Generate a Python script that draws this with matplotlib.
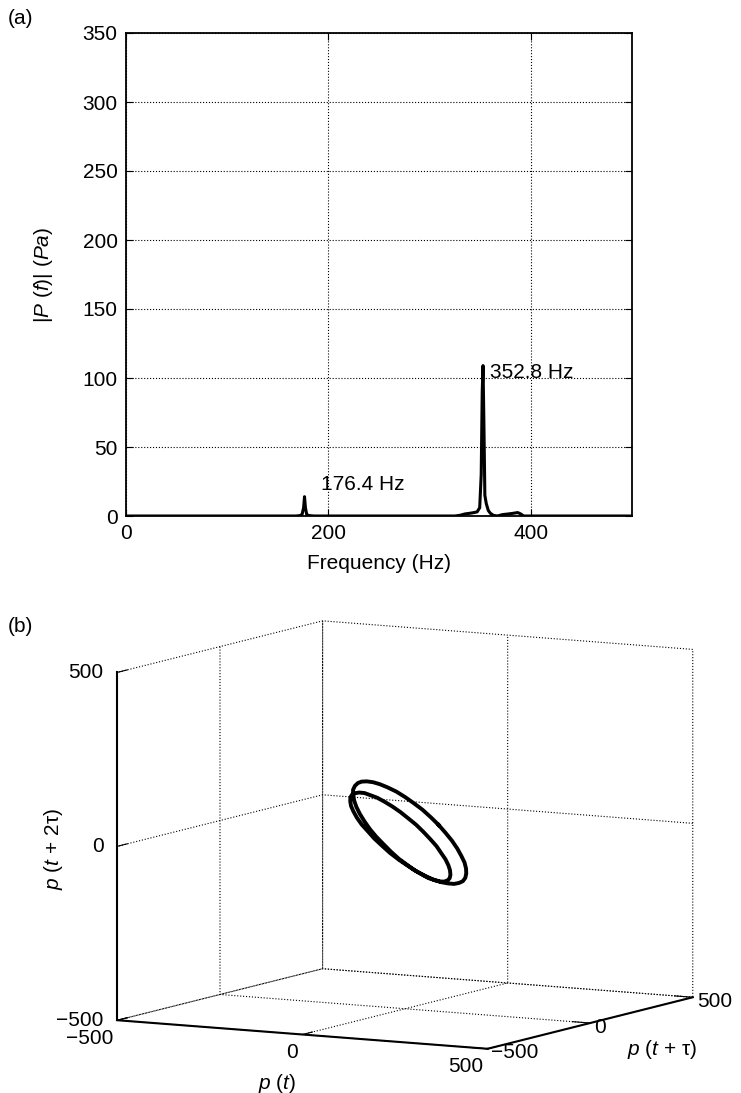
import matplotlib
matplotlib.use('Agg')
import matplotlib.pyplot as plt
import numpy as np

plt.rcParams['font.family'] = ['Liberation Sans', 'DejaVu Sans']
plt.rcParams['mathtext.fontset'] = 'custom'
plt.rcParams['mathtext.rm'] = 'Liberation Sans'
plt.rcParams['mathtext.it'] = 'Liberation Sans:italic'
plt.rcParams['font.size'] = 15
plt.rcParams['grid.linestyle'] = ':'
plt.rcParams['grid.color'] = 'k'
plt.rcParams['grid.linewidth'] = 0.8

# (a) amplitude spectrum
freq = [0, 168, 172, 174, 175.5, 176.4, 177.3, 178.6, 181, 186,
        325, 330, 335, 340, 344, 347, 349.5, 351, 352, 352.8, 353.6, 354.6,
        356, 358, 360, 363, 367, 372, 378, 383, 387, 390, 393, 500]
amp = [0, 0, 0.3, 1.2, 6, 14, 6, 1.0, 0.3, 0,
       0, 0.5, 1.5, 2, 2.5, 3, 6, 30, 90, 109, 70, 15,
       9, 4, 2, 0.5, 0, 1, 1.5, 2, 2.5, 1.5, 0, 0]
peak_text = ['176.4 Hz', '352.8 Hz']
peak_xy = [(193, 23), (360, 104)]

# (b) pressure samples over one 176.4 Hz period (80 samples), delay in samples
p = np.array([12, 32, 52, 71, 88, 104, 117, 127, 135, 140,
              141, 139, 134, 126, 115, 102, 86, 69, 50, 29,
              9, -12, -32, -52, -70, -86, -100, -111, -120, -126,
              -128, -128, -124, -118, -109, -97, -83, -67, -50, -31,
              -12, 7, 26, 43, 60, 75, 87, 97, 105, 110,
              111, 110, 106, 98, 89, 76, 62, 46, 28, 10,
              -9, -28, -46, -63, -79, -93, -104, -114, -120, -123,
              -124, -121, -115, -107, -95, -81, -65, -48, -28, -8])
tau = 10

fig = plt.figure(figsize=(7.41, 10.93), dpi=100)

ax = fig.add_axes([126/741, 1-516/1093, 506/741, 483/1093])
ax.plot(freq, amp, 'k', lw=2.2)
for txt, (fx, fy) in zip(peak_text, peak_xy):
    ax.text(fx, fy, txt, ha='left', va='center')
ax.set_xlim(0, 500)
ax.set_ylim(0, 350)
ax.set_xticks([0, 200, 400])
ax.set_yticks(np.arange(0, 351, 50))
ax.grid(True)
ax.tick_params(direction='in', top=True, right=True, length=5, pad=6)
for s in ax.spines.values():
    s.set_linewidth(1.3)
ax.set_xlabel('Frequency (Hz)', labelpad=8)
ax.set_ylabel(r'|$P$ ($f$)| ($Pa$)', labelpad=20)
fig.text(8/741, 1-18/1093, '(a)', va='center', ha='left')

# delay embedding
xs = np.append(p, p[0])
ys = np.roll(p, -tau)
ys = np.append(ys, ys[0])
zs = np.roll(p, -2*tau)
zs = np.append(zs, zs[0])

ax3 = fig.add_axes([0.0775, 0.0, 0.92, 0.46], projection='3d')
ax3.set_proj_type('ortho')
ax3.view_init(elev=8, azim=-61)
ax3.set_box_aspect((1, 1, 0.83), zoom=1.34)
ax3.plot(xs, ys, zs, 'k', lw=2.8)
ax3.set_xlim(-500, 500)
ax3.set_ylim(-500, 500)
ax3.set_zlim(-500, 500)
ax3.set_xticks([-500, 0, 500])
ax3.set_yticks([-500, 0, 500])
ax3.set_zticks([-500, 0, 500])
for axis in (ax3.xaxis, ax3.yaxis, ax3.zaxis):
    axis.set_pane_color((1, 1, 1, 0))
    axis.pane.set_edgecolor('k')
    axis.pane.set_linestyle(':')
    axis.pane.set_linewidth(0.8)
    axis.line.set_color('k')
    axis.line.set_linewidth(1.5)
    axis._axinfo['grid'].update(color='k', linestyle=':', linewidth=0.8)
    axis._axinfo['tick'].update(inward_factor=0.0, outward_factor=0.6)
    axis.set_rotate_label(False)
ax3.zaxis.set_ticks_position('lower')
ax3.zaxis.set_label_position('lower')

ax3.xaxis.set_tick_params(pad=-4)
ax3.yaxis.set_tick_params(pad=-6)
ax3.zaxis.set_tick_params(pad=-3.5)
for t in ax3.xaxis.get_ticklabels():
    t.set_va('top')
    t.set_ha('right')
for t in ax3.yaxis.get_ticklabels():
    t.set_ha('left')
    t.set_va('center')
for t in ax3.zaxis.get_ticklabels():
    t.set_ha('right')
    t.set_va('center')

ax3.set_xlabel(r'$p$ ($t$)', labelpad=2)
ax3.set_ylabel(r'$p$ ($t$ + τ)', labelpad=-2)
ax3.yaxis._axinfo['label'].update(ha='left', va='bottom')
ax3.set_zlabel(r'$p$ ($t$ + 2τ)', rotation=90, labelpad=0)
fig.text(8/741, 1-627/1093, '(b)', va='center', ha='left')

fig.savefig('out.png', dpi=100)
